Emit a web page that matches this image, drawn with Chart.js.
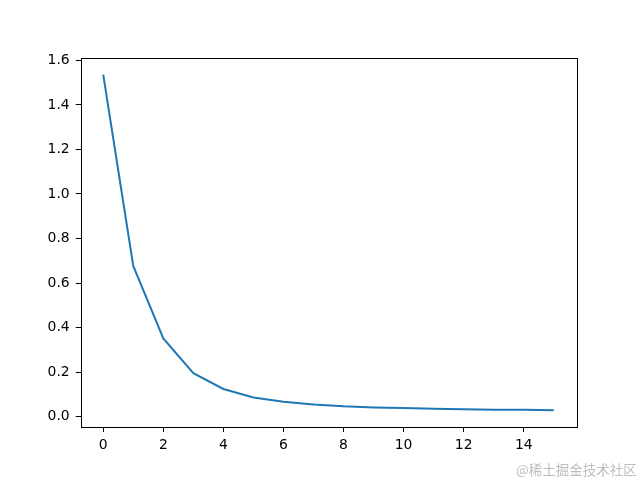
<!DOCTYPE html>
<html>
<head>
<meta charset="utf-8">
<script src="https://cdn.jsdelivr.net/npm/chart.js@4/dist/chart.umd.min.js"></script>
<style>
  html, body { margin: 0; padding: 0; background: #fff; }
  #wrap { position: relative; width: 640px; height: 480px; }
  canvas { display: block; }
  #wm { position: absolute; left: 516px; top: 459px; font-family: "Noto Sans CJK SC", sans-serif; font-size: 13.5px; color: #bdbdbd; white-space: nowrap; }
</style>
</head>
<body>
<div id="wrap">
<canvas id="c" width="640" height="480"></canvas>
<div id="wm">@稀土掘金技术社区</div>
</div>
<script>
const epochs = [0, 1, 2, 3, 4, 5, 6, 7, 8, 9, 10, 11, 12, 13, 14, 15];
const lossValues = [1.536, 0.677, 0.351, 0.195, 0.124, 0.086, 0.066, 0.054, 0.046, 0.041, 0.038, 0.035, 0.033, 0.031, 0.030, 0.028];
const xTickValues = [0, 2, 4, 6, 8, 10, 12, 14];
const yTickValues = [0.0, 0.2, 0.4, 0.6, 0.8, 1.0, 1.2, 1.4, 1.6];

const frame = {
  id: 'frame',
  afterDraw(chart) {
    const a = chart.chartArea, ctx = chart.ctx;
    ctx.save();
    ctx.strokeStyle = '#000';
    ctx.lineWidth = 1;
    ctx.strokeRect(Math.round(a.left) + 0.5, Math.round(a.top) + 0.5, Math.round(a.right - a.left), Math.round(a.bottom - a.top));
    ctx.restore();
  }
};

const font = { family: '"DejaVu Sans", sans-serif', size: 13.9 };

new Chart(document.getElementById('c'), {
  type: 'line',
  data: {
    datasets: [{
      data: epochs.map((e, i) => ({ x: e, y: lossValues[i] })),
      borderColor: '#1f77b4',
      borderWidth: 2,
      pointRadius: 0,
      tension: 0,
      fill: false
    }]
  },
  options: {
    responsive: false,
    animation: false,
    devicePixelRatio: 1,
    layout: { padding: { left: 0, top: 58, right: 63.7, bottom: 0 } },
    plugins: { legend: { display: false }, tooltip: { enabled: false } },
    scales: {
      x: {
        type: 'linear',
        min: -0.75,
        max: 15.75,
        afterBuildTicks: s => { s.ticks = xTickValues.map(v => ({ value: v })); },
        afterFit: s => { s.height = 53; },
        grid: { display: true, drawOnChartArea: false, drawTicks: true, tickLength: 5, color: '#000', tickColor: '#000' },
        border: { display: false },
        ticks: { color: '#000', font, padding: 5, maxRotation: 0, autoSkip: false }
      },
      y: {
        type: 'linear',
        min: -0.047,
        max: 1.611,
        afterBuildTicks: s => { s.ticks = yTickValues.map(v => ({ value: v })); },
        afterFit: s => { s.width = 80.7; },
        grid: { display: true, drawOnChartArea: false, drawTicks: true, tickLength: 5, color: '#000', tickColor: '#000' },
        border: { display: false },
        ticks: { color: '#000', font, padding: 6, autoSkip: false, callback: v => v.toFixed(1) }
      }
    }
  },
  plugins: [frame]
});
</script>
</body>
</html>
